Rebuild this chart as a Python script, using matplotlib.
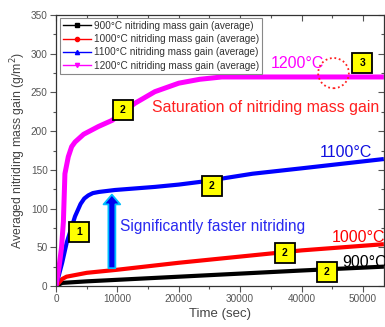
import matplotlib
matplotlib.use("Agg")
import matplotlib.pyplot as plt
from matplotlib.lines import Line2D
from matplotlib.patches import Ellipse
from matplotlib.ticker import MultipleLocator

# ---- data ----
t_900 = [0, 1000, 5000, 10000, 20000, 30000, 40000, 53400]
m_900 = [0, 4, 6, 8, 12, 16, 20, 25]

t_1000 = [0, 1000, 1700, 5000, 10000, 20000, 30000, 40000, 53400]
m_1000 = [0, 9, 12, 17, 21, 30, 38, 46, 54]

t_1100 = [0, 400, 1000, 1740, 2300, 3100, 4000, 4600, 5250, 6000, 7000, 9600, 16100,
          20000, 24000, 32000, 40000, 53400]
m_1100 = [0, 12, 30, 56, 70, 90, 106, 113, 117, 120, 121.5, 124, 128,
          131, 135, 145, 152, 164]

t_1200 = [0, 500, 900, 1200, 1450, 2000, 2550, 3100, 4500, 6900, 9150, 12850, 16100,
          20000, 23400, 27000, 30000, 53400]
m_1200 = [0, 25, 50, 83, 145, 167, 180, 186, 196, 206, 214, 236, 251,
          262, 267, 270, 270, 270]

series_labels = ["900°C nitriding mass gain (average)",
                 "1000°C nitriding mass gain (average)",
                 "1100°C nitriding mass gain (average)",
                 "1200°C nitriding mass gain (average)"]
series_colors = ["#000000", "#ff0000", "#0000ff", "#ff00ff"]
series_markers = ["s", "o", "^", "v"]

x_ticks = [0, 10000, 20000, 30000, 40000, 50000]
y_ticks = [0, 50, 100, 150, 200, 250, 300, 350]

plt.rcParams['font.family'] = ['Liberation Sans', 'DejaVu Sans']

fig = plt.figure(figsize=(3.85, 3.27), dpi=100)
ax = fig.add_axes([0.1455, 0.1254, 0.997 - 0.1455, 0.954 - 0.1254])

ax.plot(t_900, m_900, color=series_colors[0], lw=3.0, solid_capstyle='butt')
ax.plot(t_1000, m_1000, color=series_colors[1], lw=3.0, solid_capstyle='butt')
ax.plot(t_1100, m_1100, color=series_colors[2], lw=3.0, solid_capstyle='butt')
ax.plot(t_1200, m_1200, color=series_colors[3], lw=3.6, solid_capstyle='butt')

ax.set_xlim(0, 53400)
ax.set_ylim(0, 350)
ax.set_xticks(x_ticks)
ax.set_yticks(y_ticks)
ax.xaxis.set_minor_locator(MultipleLocator(5000))
ax.yaxis.set_minor_locator(MultipleLocator(25))

ax.tick_params(axis='both', which='both', colors='#555555', labelsize=7.2,
               top=True, right=True, direction='out')
ax.tick_params(axis='both', which='major', length=4, width=0.8, pad=2)
ax.tick_params(axis='both', which='minor', length=2.5, width=0.8)
for sp in ax.spines.values():
    sp.set_color('#333333')
    sp.set_linewidth(0.9)
# top/right ticks point inward
for tl in ax.xaxis.get_major_ticks() + ax.xaxis.get_minor_ticks():
    tl.tick2line.set_marker(3)
for tl in ax.yaxis.get_major_ticks() + ax.yaxis.get_minor_ticks():
    tl.tick2line.set_marker(0)

ax.set_xlabel("Time (sec)", fontsize=9.5, color='#444444', labelpad=3)
ax.set_ylabel("Averaged nitriding mass gain (g/m$^2$)", fontsize=8.8, color='#444444', labelpad=2)

# legend
handles = [Line2D([0], [0], color=c, lw=1.0, marker=m, markersize=3)
           for c, m in zip(series_colors, series_markers)]
leg = ax.legend(handles, series_labels, loc='upper left', bbox_to_anchor=(0.012, 0.99),
                borderaxespad=0, fontsize=7.2, handlelength=2.8, handletextpad=0.3,
                labelspacing=0.33, borderpad=0.3, fancybox=False, framealpha=1,
                edgecolor='#888888')
leg.get_frame().set_linewidth(0.8)
for txt in leg.get_texts():
    txt.set_color('#333333')

# annotations
ax.text(34960, 288, "1200°C", color='#ff00ff', fontsize=11.5, va='center', ha='left')
ax.text(42930, 172, "1100°C", color='#1010e0', fontsize=11.5, va='center', ha='left')
ax.text(44880, 62, "1000°C", color='#ff0000', fontsize=11.5, va='center', ha='left')
ax.text(46670, 30, "900°C", color='#000000', fontsize=11.5, va='center', ha='left')
ax.text(15600, 225, "Saturation of nitriding mass gain", color='#ff2020', fontsize=11.4,
        va='baseline', ha='left')
ax.text(10400, 71.5, "Significantly faster nitriding", color='#2a2af0', fontsize=11.2,
        va='baseline', ha='left')

# yellow numbered boxes
boxes = [(3740, 70, "1"), (10900, 227, "2"), (49900, 288, "3"),
         (25370, 129, "2"), (37240, 43, "2"), (44070, 18, "2")]
for bx, by, lab in boxes:
    ax.plot([bx], [by], marker='s', markersize=14.5, markerfacecolor='#ffff00',
            markeredgecolor='black', markeredgewidth=1.3, zorder=5, clip_on=False)
    ax.text(bx, by, lab, fontsize=7.5, fontweight='bold', ha='center', va='center',
            zorder=6, color='black')

# dotted circle
ax.add_patch(Ellipse((45200, 275), 5000, 39, fill=False, ec='#ff2020',
                     ls=(0, (1, 1.5)), lw=1.3, zorder=4))

# arrow
ax.annotate('', xy=(9100, 118), xytext=(9100, 23),
            arrowprops=dict(arrowstyle='simple,head_length=0.7,head_width=1.2,tail_width=0.5',
                            fc='#0000ee', ec='#00bfff', lw=1.3, mutation_scale=10,
                            shrinkA=0, shrinkB=0), zorder=4)

fig.savefig("out.png", dpi=100)
